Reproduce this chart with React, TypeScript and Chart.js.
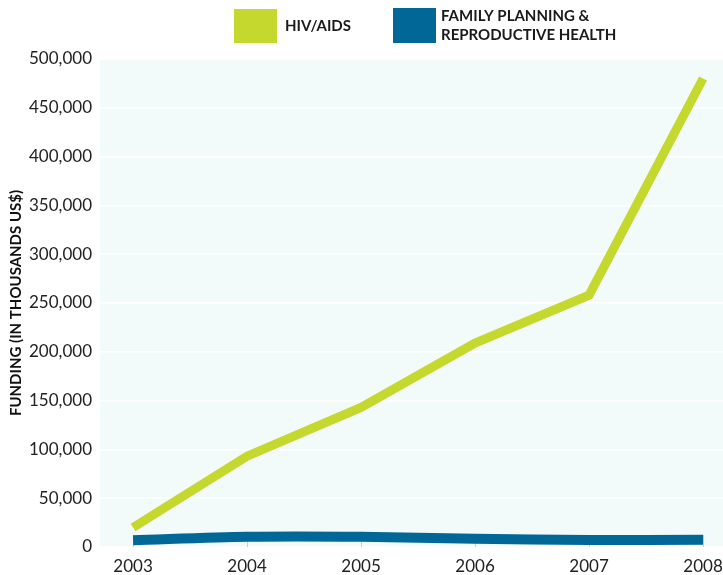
import React, { useEffect, useRef } from "react";
import { Chart, registerables } from "chart.js";

Chart.register(...registerables);

const years = [2003, 2004, 2005, 2006, 2007, 2008];
const hivAids = [20000, 93000, 143000, 209000, 258000, 480000];
const familyPlanning = [7000, 10500, 10500, 8500, 7200, 7500];
const yTicks = [0, 50000, 100000, 150000, 200000, 250000, 300000, 350000, 400000, 450000, 500000];
const hivLabel = "HIV/AIDS";
const fpLabel = ["FAMILY PLANNING &", "REPRODUCTIVE HEALTH"];
const yTitle = "FUNDING (IN THOUSANDS US$)";

const GREEN = "#c4d82e";
const BLUE = "#006796";
const FONT = "Lato, 'Open Sans', sans-serif";

const bgPlugin = {
  id: "plotBg",
  beforeDraw(chart: any) {
    const { ctx, chartArea } = chart;
    ctx.save();
    ctx.fillStyle = "#f2fbfa";
    ctx.fillRect(chartArea.left, chartArea.top, chartArea.right - chartArea.left, chartArea.bottom - chartArea.top);
    ctx.restore();
  },
  beforeDatasetsDraw(chart: any) {
    const { ctx, chartArea } = chart;
    const xs = chart.scales.x;
    ctx.save();
    ctx.strokeStyle = "#a8dbe3";
    ctx.lineWidth = 1;
    years.forEach((y) => {
      const px = Math.round(xs.getPixelForValue(y)) + 0.5;
      ctx.beginPath();
      ctx.moveTo(px, chartArea.bottom - 12);
      ctx.lineTo(px, chartArea.bottom);
      ctx.stroke();
    });
    ctx.restore();
  },
};

const legendPlugin = {
  id: "customLegend",
  afterDraw(chart: any) {
    const ctx = chart.ctx;
    ctx.save();
    ctx.fillStyle = GREEN;
    ctx.fillRect(234, 9, 43, 34);
    ctx.fillStyle = BLUE;
    ctx.fillRect(393, 8, 43, 35);
    ctx.fillStyle = "#1a1a1a";
    ctx.font = "bold 15px " + FONT;
    ctx.textBaseline = "middle";
    ctx.textAlign = "left";
    ctx.fillText(hivLabel, 285, 26);
    ctx.fillText(fpLabel[0], 441, 16);
    ctx.fillText(fpLabel[1], 441, 35);
    ctx.restore();
  },
};

export default function App() {
  const ref = useRef<HTMLCanvasElement | null>(null);
  useEffect(() => {
    if (!ref.current) return;
    const chart = new Chart(ref.current, {
      type: "line",
      data: {
        datasets: [
          {
            label: hivLabel,
            data: years.map((y, i) => ({ x: y, y: hivAids[i] })),
            borderColor: GREEN,
            backgroundColor: GREEN,
            borderWidth: 9,
            pointRadius: 0,
            tension: 0,
            borderCapStyle: "butt",
            borderJoinStyle: "miter",
          },
          {
            label: fpLabel.join(" "),
            data: years.map((y, i) => ({ x: y, y: familyPlanning[i] })),
            borderColor: BLUE,
            backgroundColor: BLUE,
            borderWidth: 10,
            pointRadius: 0,
            tension: 0.3,
            borderCapStyle: "butt",
          },
        ],
      },
      options: {
        animation: false,
        responsive: false,
        maintainAspectRatio: false,
        layout: { padding: { top: 59, left: 0, right: 0, bottom: 0 } },
        plugins: { legend: { display: false }, tooltip: { enabled: false } },
        scales: {
          x: {
            type: "linear",
            min: 2002.71,
            max: 2008.175,
            border: { display: false },
            grid: { drawOnChartArea: false, drawTicks: true, tickLength: 5, color: "rgba(0,0,0,0)" },
            ticks: {
              stepSize: 1,
              includeBounds: false,
              autoSkip: false,
              maxRotation: 0,
              padding: 4,
              color: "#222",
              font: { family: FONT, size: 17 },
              callback: (v: any) => String(v),
            },
            afterFit(scale: any) {
              scale.height = 28;
              scale.paddingRight = 0;
              scale.paddingLeft = 0;
            },
          },
          y: {
            min: 0,
            max: 500000,
            border: { display: false },
            grid: { color: "#ffffff", lineWidth: 1.5, drawTicks: false },
            afterBuildTicks(scale: any) {
              scale.ticks = yTicks.map((v) => ({ value: v }));
            },
            ticks: {
              padding: 8,
              color: "#222",
              font: { family: FONT, size: 17 },
              callback: (v: any) => Number(v).toLocaleString("en-US"),
            },
            title: {
              display: true,
              text: yTitle,
              color: "#111",
              font: { family: FONT, size: 15, weight: "bold" },
              padding: { top: 7, bottom: 0 },
            },
            afterFit(scale: any) {
              scale.width = 100;
            },
          },
        },
      },
      plugins: [bgPlugin, legendPlugin],
    } as any);
    return () => chart.destroy();
  }, []);
  return (
    <div style={{ position: "fixed", left: 0, top: 0, width: 723, height: 575, background: "#fff" }}>
      <canvas ref={ref} width={723} height={575} style={{ width: 723, height: 575, display: "block" }} />
    </div>
  );
}
